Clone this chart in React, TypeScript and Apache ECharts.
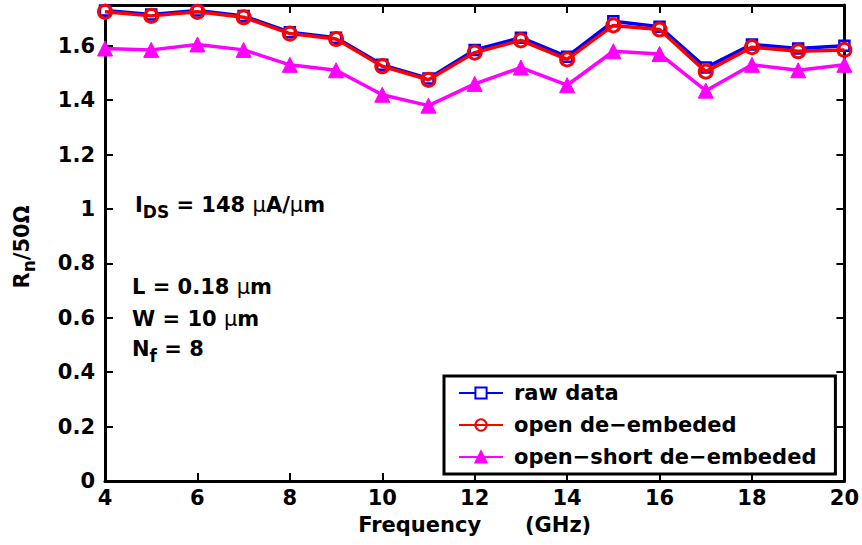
import React, { useEffect, useRef } from "react";
import * as echarts from "echarts";

const freq = [4, 5, 6, 7, 8, 9, 10, 11, 12, 13, 14, 15, 16, 17, 18, 19, 20];
const rawData = [1.73, 1.715, 1.73, 1.71, 1.65, 1.63, 1.53, 1.48, 1.585, 1.63, 1.56, 1.69, 1.67, 1.52, 1.605, 1.59, 1.6];
const openDe = [1.725, 1.71, 1.725, 1.705, 1.645, 1.625, 1.525, 1.475, 1.575, 1.62, 1.55, 1.675, 1.66, 1.505, 1.595, 1.58, 1.585];
const openShortDe = [1.59, 1.585, 1.605, 1.585, 1.53, 1.51, 1.42, 1.38, 1.46, 1.52, 1.455, 1.58, 1.57, 1.435, 1.53, 1.51, 1.53];
const seriesNames = ["raw data", "open de\u2212embeded", "open\u2212short de\u2212embeded"];

const FONT = "'DejaVu Sans', Verdana, sans-serif";
const FS = 21;

export default function App() {
  const ref = useRef<HTMLDivElement>(null);
  useEffect(() => {
    if (!ref.current) return;
    const chart = echarts.init(ref.current, null, { renderer: "svg" });
    const pairs = (ys: number[]) => freq.map((f, i) => [f, ys[i]]);
    const axisCommon = {
      axisLine: { show: true, onZero: false, lineStyle: { color: "#000", width: 3 } },
      axisTick: { show: true, inside: true, length: 8, lineStyle: { color: "#000", width: 2 } },
      splitLine: { show: false },
    };
    const b = { fontSize: FS, fontWeight: "bold", fontFamily: FONT, fill: "#000" };
    const m = { fontSize: FS, fontWeight: "normal", fontFamily: FONT, fill: "#000" };
    const s = { fontSize: 17, fontWeight: "bold", fontFamily: FONT, fill: "#000", padding: [14, 0, 0, 0] };
    chart.setOption({
      animation: false,
      backgroundColor: "#fff",
      grid: { left: 105, right: 17, top: 5, bottom: 64 },
      xAxis: [
        {
          type: "value", min: 4, max: 20, interval: 2, position: "bottom",
          ...axisCommon,
          axisLabel: { color: "#000", fontSize: FS, fontWeight: "bold", fontFamily: FONT, margin: 6 },
          name: "Frequency      (GHz)", nameLocation: "middle", nameGap: 33,
          nameTextStyle: { color: "#000", fontSize: FS, fontWeight: "bold", fontFamily: FONT },
        },
        {
          type: "value", min: 4, max: 20, interval: 2, position: "top",
          ...axisCommon, axisLabel: { show: false },
        },
      ],
      yAxis: [
        {
          type: "value", min: 0, max: 1.75, interval: 0.2, position: "left",
          ...axisCommon,
          axisLabel: {
            color: "#000", fontSize: FS, fontWeight: "bold", fontFamily: FONT, margin: 10,
            showMaxLabel: false,
          },
        },
        {
          type: "value", min: 0, max: 1.75, interval: 0.2, position: "right",
          ...axisCommon, axisLabel: { show: false },
        },
      ],
      legend: {
        left: 444, top: 376, orient: "vertical",
        data: seriesNames,
        itemWidth: 44, itemHeight: 14, itemGap: 8,
        padding: [5, 19, 5, 14],
        borderColor: "#000", borderWidth: 3, backgroundColor: "#fff",
        textStyle: { color: "#000", fontSize: FS, fontWeight: "bold", fontFamily: FONT, lineHeight: 24, padding: [0, 0, 0, 6] },
      },
      graphic: [
        {
          type: "text", left: 135, top: 194,
          style: {
            text: "{b|I}{s|DS}{b| = 148 }{m|\u03bc}{b|A/}{m|\u03bc}{b|m}",
            rich: { b, s, m },
          },
        },
        {
          type: "text", left: 132, top: 276,
          style: { text: "{b|L = 0.18 }{m|\u03bc}{b|m}", rich: { b, m } },
        },
        {
          type: "text", left: 132, top: 308,
          style: { text: "{b|W = 10 }{m|\u03bc}{b|m}", rich: { b, m } },
        },
        {
          type: "text", left: 132, top: 338,
          style: { text: "{b|N}{s|f}{b| = 8}", rich: { b, s } },
        },
        {
          type: "text", x: 22, y: 247, rotation: Math.PI / 2,
          style: {
            text: "{b|R}{s|n}{b|/50\u03a9}",
            align: "center", verticalAlign: "middle",
            rich: { b, s },
          },
        },
      ],
      series: [
        {
          name: seriesNames[0], type: "line", data: pairs(rawData),
          symbol: "rect", symbolSize: 10, showAllSymbol: true,
          lineStyle: { color: "#0000ff", width: 3.5 },
          itemStyle: { color: "#fff", borderColor: "#0000ff", borderWidth: 2.5 },
          z: 2,
        },
        {
          name: seriesNames[1], type: "line", data: pairs(openDe),
          symbol: "circle", symbolSize: 13, showAllSymbol: true,
          lineStyle: { color: "#ff0000", width: 3.5 },
          itemStyle: { color: "transparent", borderColor: "#ff0000", borderWidth: 3 },
          z: 3,
        },
        {
          name: seriesNames[2], type: "line", data: pairs(openShortDe),
          symbol: "triangle", symbolSize: 15, showAllSymbol: true,
          lineStyle: { color: "#ff00ff", width: 3.5 },
          itemStyle: { color: "#ff00ff", borderColor: "#ff00ff", borderWidth: 1 },
          z: 2,
        },
      ],
    });
    return () => chart.dispose();
  }, []);
  return <div ref={ref} style={{ width: 862, height: 545, position: "absolute", left: 0, top: 0 }} />;
}
